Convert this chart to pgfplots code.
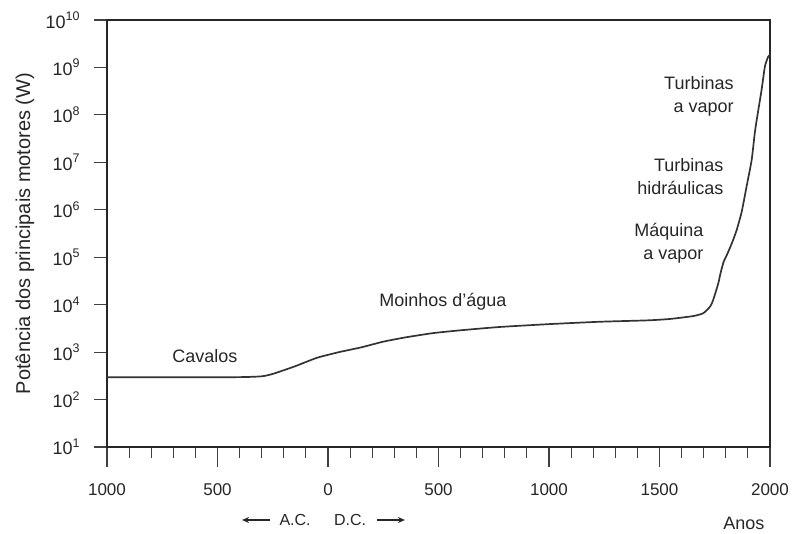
\documentclass[border=0pt]{standalone}
\usepackage{fontspec}
\setmainfont{Liberation Sans}
\usepackage{pgfplots}
\pgfplotsset{compat=1.18}
\usetikzlibrary{arrows.meta}
\newcommand\ep[2]{#1\raisebox{0.42em}{\fontsize{12.5bp}{13bp}\selectfont #2}}
\begin{document}
\begin{tikzpicture}
\begin{axis}[
  scale only axis, width=663bp, height=427bp,
  xmin=-1000, xmax=2000, ymode=log, ymin=10, ymax=1e10,
  clip=false,
  axis line style={line width=1.6bp, black!85},
  tick align=outside,
  xtick pos=bottom, ytick pos=left,
  xtick={-1000,-500,0,500,1000,1500,2000},
  xticklabels={1000,500,0,500,1000,1500,2000},
  minor x tick num=4,
  yminorticks=false,
  ytick={10,100,1000,1e4,1e5,1e6,1e7,1e8,1e9,1e10},
  yticklabels={\ep{10}{1},\ep{10}{2},\ep{10}{3},\ep{10}{4},\ep{10}{5},\ep{10}{6},\ep{10}{7},\ep{10}{8},\ep{10}{9},\ep{10}{10}},
  major tick length=20bp, minor tick length=11bp,
  every major y tick/.append style={/pgfplots/major tick length=13bp},
  tick style={line width=1.1bp, black!75},
  tick label style={font=\fontsize{17bp}{20bp}\selectfont, text=black!85},
  xticklabel style={yshift=-13bp},
  yticklabel style={xshift=-4bp, font=\fontsize{18bp}{20bp}\selectfont},
  ylabel={Potência dos principais motores (W)},
  every axis y label/.style={at={(axis description cs:-0.1237,0.5)}, rotate=90, anchor=center, font=\fontsize{20bp}{24bp}\selectfont, text=black!85},
]
\addplot[smooth, tension=0.35, line width=1.7bp, black!80] coordinates {
(-1000,295) (-700,295) (-400,297) (-300,309) (-250,347) (-150,501) (-50,759)
(50,1000) (150,1259) (250,1660) (350,2042) (475,2512) (600,2884) (778,3388)
(1000,3890) (1231,4365) (1450,4677) (1550,5012) (1653,5754) (1698,6607)
(1729,9120) (1743,12589) (1766,28184) (1777,47863) (1790,79433) (1805,112202)
(1827,194984) (1849,371535) (1872,912011) (1894,3.09e6) (1917,1.12e7)
(1932,4.47e7) (1947,1.26e8) (1962,3.39e8) (1977,1.05e9) (1992,1.70e9) (2000,1.82e9)
};
\coordinate (BL) at (rel axis cs:0,0);
\coordinate (TR) at (rel axis cs:1,1);
\begin{scope}[every node/.style={font=\fontsize{18bp}{23bp}\selectfont, text=black!85}]
\node at (axis cs:-557,830) {Cavalos};
\node at (axis cs:520,11500) {Moinhos d’água};
\node[anchor=east, align=right] at (axis cs:1715,1.95e5) {Máquina\\a vapor};
\node[anchor=east, align=right] at (axis cs:1805,5.1e6) {Turbinas\\hidráulicas};
\node[anchor=east, align=right] at (axis cs:1851,2.5e8) {Turbinas\\a vapor};
\node at ([yshift=-76bp]axis cs:1882,10) {Anos};
\end{scope}
\node[font=\fontsize{16bp}{18bp}\selectfont, text=black!85] at ([yshift=-73bp]axis cs:-149,10) {A.C.};
\node[font=\fontsize{16bp}{18bp}\selectfont, text=black!85] at ([yshift=-73bp]axis cs:100,10) {D.C.};
\draw[-{Stealth[length=7bp,width=6bp]}, line width=1.4bp, black!85] ([yshift=-73bp]axis cs:-262,10) -- ([yshift=-73bp]axis cs:-389,10);
\draw[-{Stealth[length=7bp,width=6bp]}, line width=1.4bp, black!85] ([yshift=-73bp]axis cs:222,10) -- ([yshift=-73bp]axis cs:348,10);
\end{axis}
\pgfresetboundingbox
\path ([shift={(-107bp,-87bp)}]BL) rectangle ([shift={(22bp,20bp)}]TR);
\end{tikzpicture}
\end{document}
